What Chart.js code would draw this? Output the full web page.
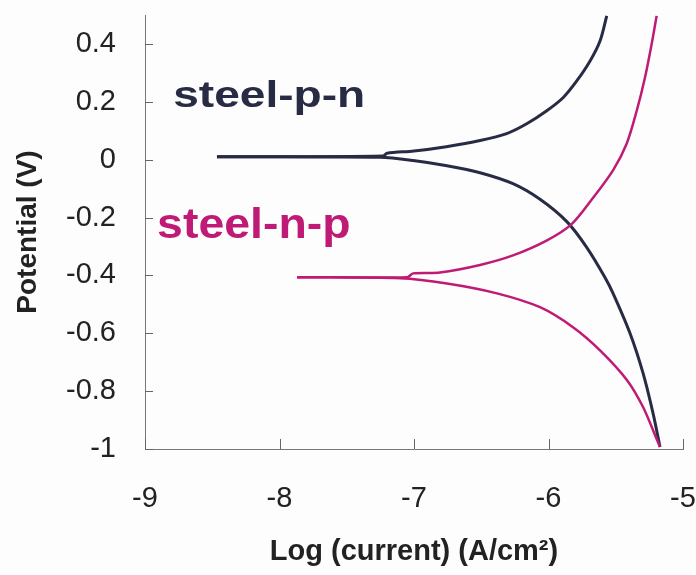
<!DOCTYPE html>
<html>
<head>
<meta charset="utf-8">
<script src="https://cdn.jsdelivr.net/npm/chart.js@4.4.0/dist/chart.umd.min.js"></script>
<style>
  html, body { margin: 0; padding: 0; background: #fdfdfd; }
  #wrap { width: 696px; height: 575px; }
</style>
</head>
<body>
<div id="wrap"><canvas id="myChart" width="696" height="575"></canvas></div>
<script>
// steel-p-n, anodic (upper) and cathodic (lower) branches
var pnAnodicX = [-8.465, -7.23, -7.2, -7.0, -6.76, -6.509, -6.311, -6.162, -6.013, -5.892, -5.79, -5.691, -5.617, -5.567];
var pnAnodicY = [0.01, 0.013, 0.022, 0.03, 0.045, 0.066, 0.09, 0.124, 0.169, 0.214, 0.272, 0.341, 0.41, 0.497];
var pnCathodicX = [-8.465, -7.253, -7.007, -6.755, -6.509, -6.264, -6.063, -5.862, -5.716, -5.58, -5.52, -5.394, -5.297, -5.223, -5.171];
var pnCathodicY = [0.01, 0.008, -0.003, -0.021, -0.045, -0.083, -0.137, -0.215, -0.303, -0.407, -0.462, -0.6, -0.738, -0.876, -0.993];

// steel-n-p
var npAnodicX = [-7.87, -7.05, -7.007, -6.807, -6.509, -6.264, -6.011, -5.828, -5.667, -5.518, -5.419, -5.344, -5.283, -5.233, -5.196];
var npAnodicY = [-0.406, -0.406, -0.393, -0.39, -0.364, -0.331, -0.279, -0.223, -0.131, -0.035, 0.055, 0.169, 0.283, 0.4, 0.497];
var npCathodicX = [-7.87, -7.104, -6.755, -6.383, -6.063, -5.818, -5.617, -5.416, -5.297, -5.193, -5.171];
var npCathodicY = [-0.406, -0.41, -0.428, -0.462, -0.51, -0.579, -0.659, -0.762, -0.855, -0.969, -0.993];

var xTicks = [-9, -8, -7, -6, -5];
var yTicks = [-1, -0.8, -0.6, -0.4, -0.2, 0, 0.2, 0.4];

var darkColor = '#272b44';
var pinkColor = '#bf1b76';
var fontFamily = '"Liberation Sans", Arial, sans-serif';

function pts(xs, ys) {
    var out = [];
    for (var i = 0; i < xs.length; i++) out.push({x: xs[i], y: ys[i]});
    return out;
}

function line(xs, ys, color, w) {
    return {
        data: pts(xs, ys),
        showLine: true,
        borderColor: color,
        borderWidth: w,
        pointRadius: 0,
        tension: 0.3,
        clip: false
    };
}

function noPad(s) {
    s.paddingTop = 0; s.paddingBottom = 0; s.paddingLeft = 0; s.paddingRight = 0;
}

// inward tick marks + curve labels
var extras = {
    id: 'extras',
    afterDatasetsDraw: function(chart) {
        var c = chart.ctx, xs = chart.scales.x, ys = chart.scales.y;
        var area = chart.chartArea;
        c.save();
        c.strokeStyle = '#666';
        c.lineWidth = 1;
        c.beginPath();
        yTicks.forEach(function(v) {
            var py = Math.round(ys.getPixelForValue(v)) + 0.5;
            c.moveTo(area.left, py); c.lineTo(area.left + 8, py);
        });
        xTicks.forEach(function(v) {
            var px = Math.round(xs.getPixelForValue(v)) + 0.5;
            c.moveTo(px, area.bottom); c.lineTo(px, area.bottom - 10);
        });
        c.stroke();

        c.textBaseline = 'alphabetic';
        c.fillStyle = darkColor;
        c.font = 'bold 36px ' + fontFamily;
        c.save();
        c.translate(xs.getPixelForValue(-8.79), ys.getPixelForValue(0.183));
        c.scale(1.28, 1);
        c.fillText('steel-p-n', 0, 0);
        c.restore();
        c.fillStyle = pinkColor;
        c.font = 'bold 43px ' + fontFamily;
        c.save();
        c.translate(xs.getPixelForValue(-8.91), ys.getPixelForValue(-0.272));
        c.scale(1.08, 1);
        c.fillText('steel-n-p', 0, 0);
        c.restore();
        c.restore();
    }
};

var ctx = document.getElementById('myChart').getContext('2d');
var myChart = new Chart(ctx, {
    type: 'scatter',
    data: {
        datasets: [
            line(npCathodicX, npCathodicY, pinkColor, 2.5),
            line(npAnodicX, npAnodicY, pinkColor, 2.5),
            line(pnCathodicX, pnCathodicY, darkColor, 3),
            line(pnAnodicX, pnAnodicY, darkColor, 3)
        ]
    },
    plugins: [extras],
    options: {
        responsive: false,
        animation: false,
        layout: { padding: { top: 15, right: 13, left: 0, bottom: 0 } },
        plugins: { legend: { display: false }, tooltip: { enabled: false } },
        scales: {
            x: {
                type: 'linear',
                min: -9, max: -5,
                grid: { display: false },
                border: { display: true, color: '#777', width: 1 },
                afterFit: function(s) { s.height = 126; noPad(s); },
                ticks: {
                    stepSize: 1,
                    padding: 25,
                    color: '#222',
                    font: { family: fontFamily, size: 29 },
                    callback: function(v) { return String(v); }
                },
                title: {
                    display: true,
                    text: 'Log (current) (A/cm\u00b2)',
                    color: '#222',
                    padding: { top: 6, bottom: 6 },
                    font: { family: fontFamily, size: 29, weight: 'bold' }
                }
            },
            y: {
                min: -1, max: 0.5,
                grid: { display: false },
                border: { display: true, color: '#777', width: 1 },
                afterFit: function(s) { s.width = 145; noPad(s); },
                afterBuildTicks: function(s) {
                    s.ticks = yTicks.map(function(v) { return {value: v}; });
                },
                ticks: {
                    padding: 21,
                    color: '#222',
                    font: { family: fontFamily, size: 29 },
                    callback: function(v) { return String(Math.round(v * 10) / 10); }
                },
                title: {
                    display: true,
                    text: 'Potential (V)',
                    color: '#222',
                    padding: { top: 11, bottom: 6 },
                    font: { family: fontFamily, size: 28, weight: 'bold' }
                }
            }
        }
    }
});
</script>
</body>
</html>
